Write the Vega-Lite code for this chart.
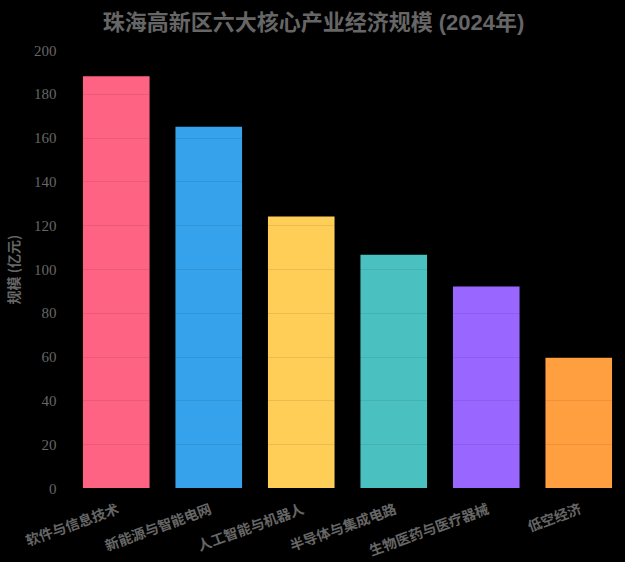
{
  "$schema": "https://vega.github.io/schema/vega-lite/v6.json",
  "width": 555,
  "height": 438,
  "autosize": "none",
  "padding": {"left": 70, "top": 50, "right": 0, "bottom": 74},
  "background": "#000000",
  "title": {
    "text": "珠海高新区六大核心产业经济规模 (2024年)",
    "anchor": "middle",
    "dx": -34,
    "offset": 8,
    "font": "Liberation Sans, Noto Sans CJK SC",
    "fontSize": 22,
    "fontWeight": "bold",
    "color": "#666666"
  },
  "data": {
    "values": [
      {"industry": "软件与信息技术", "scale": 188},
      {"industry": "新能源与智能电网", "scale": 165},
      {"industry": "人工智能与机器人", "scale": 124},
      {"industry": "半导体与集成电路", "scale": 106.5},
      {"industry": "生物医药与医疗器械", "scale": 92},
      {"industry": "低空经济", "scale": 59.5}
    ]
  },
  "mark": {"type": "bar"},
  "encoding": {
    "x": {
      "field": "industry",
      "type": "nominal",
      "sort": null,
      "scale": {"paddingInner": 0.28, "paddingOuter": 0.14},
      "axis": {
        "title": null,
        "labelAngle": -20,
        "labelAlign": "right",
        "labelBaseline": "top",
        "labelFont": "Noto Sans CJK SC",
        "labelFontWeight": "bold",
        "labelFontSize": 14,
        "labelColor": "#666666",
        "labelPadding": 14,
        "domain": false,
        "ticks": false,
        "grid": false
      }
    },
    "y": {
      "field": "scale",
      "type": "quantitative",
      "scale": {"domain": [0, 200]},
      "axis": {
        "title": "规模 (亿元)",
        "titleFont": "Noto Sans CJK SC",
        "titleFontSize": 14,
        "titleFontWeight": "bold",
        "titleColor": "#666666",
        "titlePadding": 12,
        "values": [0, 20, 40, 60, 80, 100, 120, 140, 160, 180, 200],
        "labelFont": "Liberation Serif",
        "labelFontSize": 15,
        "labelColor": "#666666",
        "labelPadding": 14,
        "domain": false,
        "ticks": false,
        "grid": true,
        "gridColor": "#000000",
        "gridOpacity": 0.08,
        "zindex": 1
      }
    },
    "color": {
      "field": "industry",
      "type": "nominal",
      "sort": null,
      "scale": {
        "domain": ["软件与信息技术", "新能源与智能电网", "人工智能与机器人", "半导体与集成电路", "生物医药与医疗器械", "低空经济"],
        "range": ["#FF6384", "#36A2EB", "#FFCE56", "#4BC0C0", "#9966FF", "#FF9F40"]
      },
      "legend": null
    }
  },
  "config": {"view": {"stroke": null}}
}
